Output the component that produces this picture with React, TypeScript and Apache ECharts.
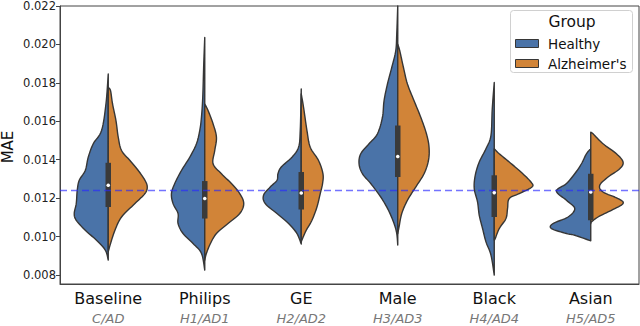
import React, { useEffect, useRef } from "react";
import * as echarts from "echarts";

const categories = ["Baseline", "Philips", "GE", "Male", "Black", "Asian"];
const subLabels = ["C/AD", "H1/AD1", "H2/AD2", "H3/AD3", "H4/AD4", "H5/AD5"];
const yTicks = [0.008, 0.01, 0.012, 0.014, 0.016, 0.018, 0.02, 0.022];
const referenceMAE = 0.0124;
const groupNames = ["Healthy", "Alzheimer's"];

// Each profile: [MAE value, relative density (half-width)] from top to bottom
const baselineHealthy = [[0.01846, 0], [0.0169, 2.3], [0.01552, 6.7], [0.01483, 15], [0.01413, 20], [0.01344, 23], [0.01293, 29], [0.01241, 31], [0.01172, 32], [0.0112, 34], [0.01085, 32], [0.01033, 23], [0.00982, 12], [0.0093, 3], [0.00878, 0]];
const baselineAD = [[0.01776, 0], [0.01759, 2.3], [0.0169, 4.3], [0.01604, 7.7], [0.01517, 10], [0.01448, 13.3], [0.01396, 21.7], [0.01344, 30], [0.01293, 36.7], [0.01258, 39], [0.01224, 36.7], [0.01172, 26.7], [0.01102, 13.3], [0.01033, 6.7], [0.00964, 2.3], [0.00921, 0]];
const philipsHealthy = [[0.02036, 0], [0.01898, 1], [0.01725, 2], [0.01621, 3.3], [0.01552, 5], [0.01483, 8.3], [0.01413, 15], [0.01344, 23.3], [0.01276, 30], [0.01224, 33.3], [0.01172, 31.7], [0.0112, 26.7], [0.01068, 26.7], [0.01016, 21.7], [0.00964, 11.7], [0.00913, 3.3], [0.00826, 0]];
const philipsAD = [[0.0169, 0], [0.01656, 3.3], [0.01587, 8.3], [0.01517, 11.7], [0.01448, 10], [0.01379, 8.3], [0.01327, 16.7], [0.01276, 26.7], [0.01224, 35], [0.01172, 39], [0.0112, 35], [0.01068, 23.3], [0.01016, 11.7], [0.00964, 5.7], [0.00913, 1.7], [0.00878, 0]];
const geHealthy = [[0.01768, 0], [0.01552, 1], [0.01465, 2.7], [0.01413, 9.3], [0.01362, 20], [0.01327, 23.3], [0.01293, 24.3], [0.01258, 31], [0.01215, 37.7], [0.01172, 36], [0.0112, 24.3], [0.01068, 12.7], [0.01016, 4.3], [0.00961, 0]];
const geAD = [[0.01742, 0], [0.01673, 2.3], [0.01552, 5.7], [0.01465, 9], [0.01396, 17.3], [0.01327, 21.7], [0.01276, 21.3], [0.01224, 19], [0.01154, 15.7], [0.01085, 10.7], [0.01033, 5], [0.0099, 1.3], [0.00973, 0]];
const maleHealthy = [[0.022, 0], [0.02053, 1], [0.01967, 2], [0.0188, 6], [0.01794, 10.3], [0.01707, 13.7], [0.01621, 15.3], [0.01535, 20.3], [0.01483, 28.7], [0.01431, 37], [0.01379, 38.7], [0.01327, 35.3], [0.01276, 27], [0.01206, 17], [0.01137, 9.3], [0.01068, 3.7], [0.01016, 1], [0.00956, 0]];
const maleAD = [[0.02001, 0], [0.01967, 2], [0.0188, 5.7], [0.01794, 9.7], [0.01707, 16.3], [0.01621, 23], [0.01535, 28.7], [0.01465, 31.3], [0.01396, 30.7], [0.01327, 26.3], [0.01258, 18], [0.01189, 9.7], [0.0112, 4], [0.0105, 1.3], [0.01016, 0]];
const blackHealthy = [[0.01802, 0], [0.01664, 2], [0.01526, 3.3], [0.01457, 8.3], [0.01388, 15], [0.01319, 19], [0.0125, 20], [0.0118, 16.7], [0.01111, 15], [0.01042, 11.7], [0.00973, 8.3], [0.00904, 3.3], [0.008, 0]];
const blackAD = [[0.01457, 0], [0.01431, 5], [0.01388, 15], [0.01336, 26.7], [0.01284, 36.7], [0.01258, 37.7], [0.01224, 25], [0.01198, 15], [0.01146, 13.3], [0.01094, 11.7], [0.01042, 5], [0.0099, 1], [0.00982, 0]];
const asianHealthy = [[0.01457, 0], [0.01431, 4.3], [0.01379, 9.3], [0.01327, 16], [0.01276, 24.3], [0.01237, 34.3], [0.01189, 24.3], [0.01146, 16], [0.01102, 22.7], [0.01068, 37.7], [0.01042, 39.3], [0.01016, 24.3], [0.01007, 16], [0.00978, 0]];
const asianAD = [[0.01543, 0], [0.01535, 2.3], [0.01483, 12.3], [0.01431, 25.7], [0.01388, 32.3], [0.01353, 29], [0.0131, 17.3], [0.01267, 9], [0.01232, 12.3], [0.01198, 27.3], [0.01172, 32.3], [0.01137, 20.7], [0.01102, 7.3], [0.01076, 0.7], [0.01068, 0]];

const healthyProfiles = [baselineHealthy, philipsHealthy, geHealthy, maleHealthy, blackHealthy, asianHealthy];
const alzheimerProfiles = [baselineAD, philipsAD, geAD, maleAD, blackAD, asianAD];

const boxQ1 = [0.01154, 0.01094, 0.01141, 0.0131, 0.01102, 0.01085];
const boxQ3 = [0.01384, 0.01289, 0.01336, 0.01578, 0.01319, 0.01327];
const medians = [0.01267, 0.01198, 0.01227, 0.01417, 0.01229, 0.01232];

const BLUE = "#4a73a8";
const ORANGE = "#d18438";
const EDGE = "#363636";
const FONT = "DejaVu Sans";

function catmull(pts: number[][], steps = 8): number[][] {
  const out: number[][] = [];
  const n = pts.length;
  for (let i = 0; i < n - 1; i++) {
    const p0 = pts[Math.max(0, i - 1)];
    const p1 = pts[i];
    const p2 = pts[i + 1];
    const p3 = pts[Math.min(n - 1, i + 2)];
    for (let s = 0; s < steps; s++) {
      const t = s / steps;
      const t2 = t * t;
      const t3 = t2 * t;
      const r: number[] = [];
      for (let k = 0; k < 2; k++) {
        r.push(
          0.5 *
            (2 * p1[k] +
              (-p0[k] + p2[k]) * t +
              (2 * p0[k] - 5 * p1[k] + 4 * p2[k] - p3[k]) * t2 +
              (-p0[k] + 3 * p1[k] - 3 * p2[k] + p3[k]) * t3)
        );
      }
      out.push(r);
    }
  }
  out.push(pts[n - 1]);
  return out;
}

function violinRenderer(profiles: number[][][], side: number, color: string) {
  return (params: any, api: any) => {
    const idx = params.dataIndex;
    const prof = profiles[idx];
    const c0 = api.coord([0, prof[0][0]])[0];
    const c1 = api.coord([1, prof[0][0]])[0];
    const cx = api.coord([idx, prof[0][0]])[0];
    const band = Math.abs(c1 - c0);
    const k = band / 96.5;
    const pts = prof.map(([v, d]) => [api.coord([idx, v])[1], d * k]);
    const sm = catmull(pts);
    const poly = sm.map(([y, hw]) => [cx + side * Math.max(0, hw), y]);
    poly.unshift([cx, pts[0][0]]);
    poly.push([cx, pts[pts.length - 1][0]]);
    return {
      type: "polygon",
      shape: { points: poly },
      style: { fill: color, stroke: EDGE, lineWidth: 1.4, lineJoin: "round" },
    };
  };
}

export default function App() {
  const ref = useRef<HTMLDivElement>(null);
  useEffect(() => {
    if (!ref.current) return;
    const chart = echarts.init(ref.current, null, { renderer: "svg" });
    const option: any = {
      animation: false,
      backgroundColor: "#ffffff",
      grid: { left: 60, right: 1, top: 5, bottom: 42, show: true, borderColor: "#444", borderWidth: 1 },
      xAxis: {
        type: "category",
        data: categories,
        axisLine: { lineStyle: { color: "#444", width: 1 } },
        axisTick: { alignWithLabel: true, length: 4, lineStyle: { color: "#444" } },
        axisLabel: {
          margin: 4,
          formatter: (val: string, i: number) => `{a|${val}}\n{b|${subLabels[i]}}`,
          rich: {
            a: { fontFamily: FONT, fontSize: 16, color: "#111", lineHeight: 20 },
            b: { fontFamily: FONT, fontSize: 13, fontStyle: "italic", color: "#777", lineHeight: 20 },
          },
        },
      },
      yAxis: {
        type: "value",
        min: 0.007533,
        max: 0.022,
        splitLine: { show: false },
        axisLine: { show: true, lineStyle: { color: "#444", width: 1 } },
        axisTick: { show: true, length: 4, lineStyle: { color: "#444" }, customValues: yTicks },
        axisLabel: {
          customValues: yTicks,
          margin: 4,
          fontFamily: FONT,
          fontSize: 11.5,
          color: "#222",
          formatter: (v: number) => v.toFixed(3),
        },
      },
      series: [
        {
          type: "custom",
          name: groupNames[0],
          renderItem: violinRenderer(healthyProfiles, -1, BLUE),
          data: categories.map((_, i) => [i, medians[i]]),
          encode: { x: 0, y: 1 },
          z: 2,
        },
        {
          type: "custom",
          name: groupNames[1],
          renderItem: violinRenderer(alzheimerProfiles, 1, ORANGE),
          data: categories.map((_, i) => [i, medians[i]]),
          encode: { x: 0, y: 1 },
          z: 2,
        },
        {
          type: "custom",
          name: "box",
          renderItem: (params: any, api: any) => {
            const i = params.dataIndex;
            const top = api.coord([i, boxQ3[i]]);
            const bot = api.coord([i, boxQ1[i]]);
            const med = api.coord([i, medians[i]]);
            const w = 5.5;
            return {
              type: "group",
              children: [
                {
                  type: "rect",
                  shape: { x: top[0] - w / 2, y: top[1], width: w, height: bot[1] - top[1] },
                  style: { fill: "#3a3a3a" },
                },
                {
                  type: "circle",
                  shape: { cx: med[0], cy: med[1], r: 1.8 },
                  style: { fill: "#ffffff" },
                },
              ],
            };
          },
          data: categories.map((_, i) => [i, medians[i]]),
          encode: { x: 0, y: 1 },
          z: 4,
        },
        {
          type: "custom",
          name: "reference",
          renderItem: (params: any, api: any) => {
            const cs = params.coordSys;
            const y = api.coord([0, referenceMAE])[1];
            return {
              type: "line",
              shape: { x1: cs.x, y1: y, x2: cs.x + cs.width, y2: y },
              style: { stroke: "rgba(40,40,255,0.65)", lineWidth: 1.5, lineDash: [7, 4] },
            };
          },
          data: [[0, referenceMAE]],
          encode: { x: 0, y: 1 },
          z: 6,
          silent: true,
        },
      ],
      graphic: [
        {
          type: "text",
          x: 8,
          y: 147,
          rotation: Math.PI / 2,
          style: { text: "MAE", fontFamily: FONT, fontSize: 15, fill: "#111", align: "center", verticalAlign: "middle" },
        },
        {
          type: "rect",
          shape: { x: 510.5, y: 10.5, width: 122, height: 62, r: 3 },
          style: { fill: "rgba(255,255,255,0.85)", stroke: "#d0d0d0", lineWidth: 1 },
          z: 10,
        },
        {
          type: "text",
          x: 572,
          y: 22,
          style: { text: "Group", fontFamily: FONT, fontSize: 15.5, fill: "#111", align: "center", verticalAlign: "middle" },
          z: 11,
        },
        {
          type: "rect",
          shape: { x: 515.5, y: 39.5, width: 23, height: 8 },
          style: { fill: BLUE, stroke: EDGE, lineWidth: 1 },
          z: 11,
        },
        {
          type: "text",
          x: 548,
          y: 43.5,
          style: { text: groupNames[0], fontFamily: FONT, fontSize: 13.5, fill: "#111", align: "left", verticalAlign: "middle" },
          z: 11,
        },
        {
          type: "rect",
          shape: { x: 515.5, y: 59.5, width: 23, height: 8 },
          style: { fill: ORANGE, stroke: EDGE, lineWidth: 1 },
          z: 11,
        },
        {
          type: "text",
          x: 548,
          y: 63.5,
          style: { text: groupNames[1], fontFamily: FONT, fontSize: 13.5, fill: "#111", align: "left", verticalAlign: "middle" },
          z: 11,
        },
      ],
    };
    chart.setOption(option);
    return () => chart.dispose();
  }, []);
  return <div ref={ref} style={{ position: "fixed", left: 0, top: 0, width: 640, height: 326 }} />;
}
